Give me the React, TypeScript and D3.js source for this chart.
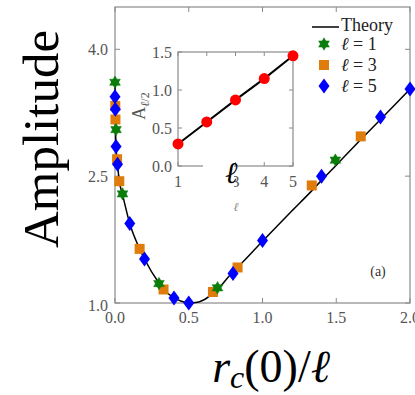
import React from "react";
import * as d3 from "d3";

// Theory curve
const theoryX = [0, 0.001, 0.003, 0.007, 0.012, 0.017, 0.029, 0.05, 0.1, 0.167, 0.2, 0.3, 0.33, 0.4, 0.45, 0.5, 0.55, 0.6, 0.66, 0.7, 0.8, 0.83, 1.0, 1.2, 1.33, 1.4, 1.5, 1.67, 1.8, 2.0];
const theoryY = [3.62, 3.35, 3.1, 2.85, 2.72, 2.64, 2.44, 2.29, 1.94, 1.64, 1.52, 1.23, 1.16, 1.06, 1.02, 1.0, 1.005, 1.035, 1.11, 1.17, 1.37, 1.42, 1.73, 2.09, 2.32, 2.45, 2.63, 2.94, 3.17, 3.53];

// l = 1 (green stars)
const l1X = [0, 0.007, 0.051, 0.298, 0.695, 1.494];
const l1Y = [3.61, 3.05, 2.29, 1.23, 1.18, 2.69];
// l = 3 (orange squares)
const l3X = [0.002, 0.003, 0.014, 0.029, 0.167, 0.329, 0.664, 0.831, 1.334, 1.666];
const l3Y = [3.33, 3.17, 2.7, 2.44, 1.64, 1.16, 1.13, 1.42, 2.39, 2.97];
// l = 5 (blue diamonds)
const l5X = [0, 0.002, 0.007, 0.017, 0.1, 0.2, 0.4, 0.5, 0.8, 1.0, 1.4, 1.8, 2.0];
const l5Y = [3.44, 3.29, 2.85, 2.64, 1.94, 1.52, 1.06, 1.0, 1.35, 1.74, 2.5, 3.2, 3.53];

// Inset: A_{l/2} vs l
const insetL = [1, 2, 3, 4, 5];
const insetA = [0.29, 0.58, 0.87, 1.15, 1.45];

const xTicks = [0, 0.5, 1, 1.5, 2];
const yTicks = [1, 2.5, 4];
const insetXTicks = [1, 2, 3, 4, 5];
const insetYTicks = [0, 0.5, 1, 1.5];

const GREEN = "#0b7d0b";
const ORANGE = "#e07c0c";
const BLUE = "#0000ff";
const RED = "#ff0000";
const AXIS = "#8a8a8a";
const TXT = "#555";
const FONT = "'Liberation Serif', 'Times New Roman', serif";

function hexagram(r: number) {
  const pts = (off: number) =>
    d3.range(3).map((i) => {
      const a = off + (i * 2 * Math.PI) / 3;
      return [r * Math.cos(a), r * Math.sin(a)];
    });
  const t1 = pts(-Math.PI / 2);
  const t2 = pts(Math.PI / 2);
  const p = (t: number[][]) => "M" + t.map((q) => q[0].toFixed(2) + "," + q[1].toFixed(2)).join("L") + "Z";
  return p(t1) + p(t2);
}

const Star = ({ x, y }: { x: number; y: number }) => (
  <path d={hexagram(6.2)} transform={`translate(${x},${y})`} fill={GREEN} stroke={GREEN} strokeWidth={0.5} />
);
const Square = ({ x, y }: { x: number; y: number }) => (
  <rect x={x - 5} y={y - 5} width={10} height={10} fill={ORANGE} />
);
const Diamond = ({ x, y }: { x: number; y: number }) => (
  <path d={`M${x},${y - 7.5}L${x + 5.5},${y}L${x},${y + 7.5}L${x - 5.5},${y}Z`} fill={BLUE} />
);

export default function App() {
  const x = d3.scaleLinear().domain([0, 2]).range([115, 410]);
  const y = d3.scaleLinear().domain([1, 4.5]).range([303, 7]);
  const ix = d3.scaleLinear().domain([1, 5]).range([178, 293]);
  const iy = d3.scaleLinear().domain([0, 1.5]).range([166, 52]);

  const theory = d3
    .line<number>()
    .x((_, i) => x(theoryX[i]))
    .y((_, i) => y(theoryY[i]))
    .curve(d3.curveMonotoneX)(theoryX);

  const insetLine = d3
    .line<number>()
    .x((_, i) => ix(insetL[i]))
    .y((_, i) => iy(insetA[i]))(insetL);

  const [x0, x1] = x.range();
  const [y0, y1] = y.range();
  const [ix0, ix1] = ix.range();
  const [iy0, iy1] = iy.range();

  return (
    <svg width={415} height={395} style={{ position: "absolute", left: 0, top: 0, background: "#fff" }} fontFamily={FONT}>
      <rect width={415} height={395} fill="#fff" />
      {/* main frame */}
      <rect x={x0} y={y1} width={x1 - x0} height={y0 - y1} fill="none" stroke={AXIS} strokeWidth={1.2} />
      {xTicks.map((t) => (
        <g key={"xt" + t}>
          <line x1={x(t)} x2={x(t)} y1={y0} y2={y0 - 5} stroke={AXIS} />
          <line x1={x(t)} x2={x(t)} y1={y1} y2={y1 + 5} stroke={AXIS} />
          <text x={x(t)} y={323} textAnchor="middle" fontSize={16} fill={TXT}>
            {t.toFixed(1)}
          </text>
        </g>
      ))}
      {yTicks.map((t) => (
        <g key={"yt" + t}>
          <line x1={x0} x2={x0 + 5} y1={y(t)} y2={y(t)} stroke={AXIS} />
          <line x1={x1} x2={x1 - 5} y1={y(t)} y2={y(t)} stroke={AXIS} />
          <text x={108} y={y(t) + (t === 1 ? 2 : 0)} textAnchor="end" dominantBaseline="central" fontSize={16} fill={TXT}>
            {t.toFixed(1)}
          </text>
        </g>
      ))}

      {/* theory curve */}
      <path d={theory || ""} fill="none" stroke="#000" strokeWidth={1.5} />

      {/* markers */}
      {l3X.map((v, i) => (
        <Square key={"s" + i} x={x(v)} y={y(l3Y[i])} />
      ))}
      {l1X.map((v, i) => (
        <Star key={"g" + i} x={x(v)} y={y(l1Y[i])} />
      ))}
      {l5X.map((v, i) => (
        <Diamond key={"d" + i} x={x(v)} y={y(l5Y[i])} />
      ))}

      {/* inset */}
      <rect x={ix0} y={iy1} width={ix1 - ix0} height={iy0 - iy1} fill="#fff" stroke={AXIS} strokeWidth={1.2} />
      {insetXTicks.map((t) => (
        <g key={"ixt" + t}>
          <line x1={ix(t)} x2={ix(t)} y1={iy0} y2={iy0 - 4} stroke={AXIS} />
          <line x1={ix(t)} x2={ix(t)} y1={iy1} y2={iy1 + 4} stroke={AXIS} />
          <text x={ix(t)} y={187} textAnchor="middle" fontSize={16} fill={TXT}>
            {t}
          </text>
        </g>
      ))}
      {insetYTicks.map((t) => (
        <g key={"iyt" + t}>
          <line x1={ix0} x2={ix0 + 4} y1={iy(t)} y2={iy(t)} stroke={AXIS} />
          <line x1={ix1} x2={ix1 - 4} y1={iy(t)} y2={iy(t)} stroke={AXIS} />
          <text x={172} y={iy(t)} textAnchor="end" dominantBaseline="central" fontSize={16} fill={TXT}>
            {t.toFixed(1)}
          </text>
        </g>
      ))}
      <text transform="translate(145,106) rotate(-90)" textAnchor="middle" fontSize={18} fill={TXT}>
        A<tspan fontSize={12} dy={4} fontStyle="italic">ℓ</tspan>
        <tspan fontSize={12}>/2</tspan>
      </text>
      <path d={insetLine || ""} fill="none" stroke="#000" strokeWidth={2} />
      {insetL.map((v, i) => (
        <circle key={"c" + i} cx={ix(v)} cy={iy(insetA[i])} r={5.5} fill={RED} />
      ))}
      <text x={236} y={211} textAnchor="middle" fontSize={12} fontStyle="italic" fill="#888">
        ℓ
      </text>
      <rect x={203} y={158} width={31} height={32} fill="#fff" />
      <text x={232} y={183} textAnchor="middle" fontSize={30} fontWeight="bold" fontStyle="italic" fill="#000">
        ℓ
      </text>

      {/* legend */}
      <line x1={312} x2={339} y1={27} y2={27} stroke="#000" strokeWidth={1.5} />
      <text x={341} y={31} fontSize={18} fill="#222">
        Theory
      </text>
      <Star x={324} y={44} />
      <text x={341} y={50} fontSize={18} fill="#222">
        <tspan fontStyle="italic">ℓ</tspan> = 1
      </text>
      <Square x={324} y={65} />
      <text x={341} y={71} fontSize={18} fill="#222">
        <tspan fontStyle="italic">ℓ</tspan> = 3
      </text>
      <Diamond x={324} y={86} />
      <text x={341} y={92} fontSize={18} fill="#222">
        <tspan fontStyle="italic">ℓ</tspan> = 5
      </text>

      <text x={378} y={276} textAnchor="middle" fontSize={14} fill="#333">
        (a)
      </text>

      {/* axis labels */}
      <text transform="translate(58,139) rotate(-90)" textAnchor="middle" fontSize={51} fill="#000">
        Amplitude
      </text>
      <text x={271} y={382} textAnchor="middle" fontSize={46} fill="#000">
        <tspan fontStyle="italic">r</tspan>
        <tspan fontStyle="italic" fontSize={32} dy={6}>c</tspan>
        <tspan dy={-6}>(0)/</tspan>
        <tspan fontStyle="italic">ℓ</tspan>
      </text>
    </svg>
  );
}
